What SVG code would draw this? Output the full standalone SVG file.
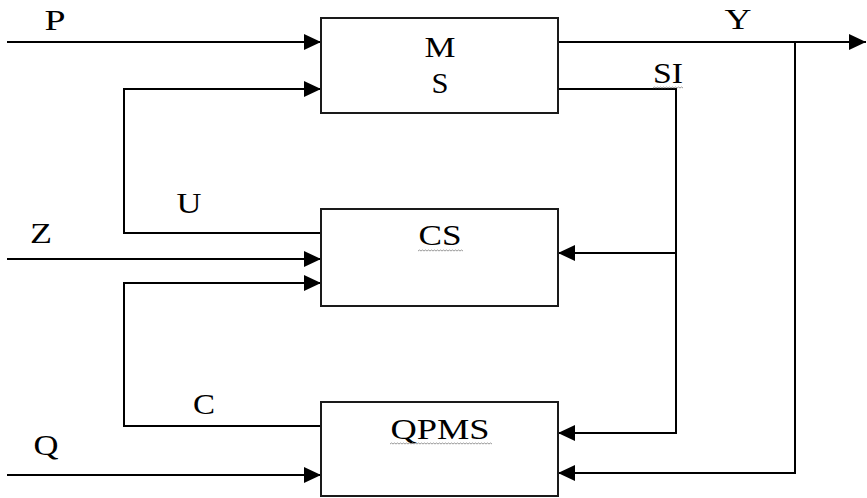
<svg xmlns="http://www.w3.org/2000/svg" width="867" height="498" viewBox="0 0 867 498">
  <style>
    .box { fill: #ffffff; stroke: #1a1a1a; stroke-width: 2; }
    .wire { fill: none; stroke: #000000; stroke-width: 2; }
    .lbl { font-family: "Liberation Serif", "Times New Roman", serif; font-size: 30px; fill: #000000; text-anchor: middle; }
    .squiggle { fill: none; stroke: #9a9a9a; stroke-width: 1; }
  </style>
  <defs>
    <marker id="arrow" markerUnits="userSpaceOnUse" markerWidth="17" markerHeight="16" refX="17" refY="8" orient="auto">
      <path d="M0,0 L17,8 L0,16 Z" fill="#000000"/>
    </marker>
  </defs>

  <rect width="867" height="498" fill="#ffffff"/>

  <!-- connectors -->
  <g id="connectors">
    <!-- external inputs -->
    <path class="wire" d="M7,42 H321" marker-end="url(#arrow)"/>
    <path class="wire" d="M7,259 H321" marker-end="url(#arrow)"/>
    <path class="wire" d="M7,475 H321" marker-end="url(#arrow)"/>
    <!-- U: CS -> MS -->
    <path class="wire" d="M321,233 H124 V89 H321" marker-end="url(#arrow)"/>
    <!-- C: QPMS -> CS -->
    <path class="wire" d="M321,426 H124 V283 H321" marker-end="url(#arrow)"/>
    <!-- Y output and its feedback to QPMS -->
    <path class="wire" d="M558,42 H866" marker-end="url(#arrow)"/>
    <path class="wire" d="M795,42 V473 H558" marker-end="url(#arrow)"/>
    <!-- SI: MS -> CS and QPMS -->
    <path class="wire" d="M558,89 H676 V433 H558" marker-end="url(#arrow)"/>
    <path class="wire" d="M676,253 H558" marker-end="url(#arrow)"/>
  </g>

  <!-- blocks -->
  <g id="node-ms">
    <rect class="box" x="321" y="18" width="237" height="95"/>
    <text class="lbl" x="440" y="57" textLength="31" lengthAdjust="spacingAndGlyphs">M</text>
    <text class="lbl" x="440" y="93" textLength="17" lengthAdjust="spacingAndGlyphs">S</text>
  </g>
  <g id="node-cs">
    <rect class="box" x="321" y="209" width="237" height="97"/>
    <text class="lbl" x="440" y="245" textLength="43" lengthAdjust="spacingAndGlyphs">CS</text>
    <path class="squiggle" d="M418,251 l1.5,-1 l1.5,1 l1.5,-1 l1.5,1 l1.5,-1 l1.5,1 l1.5,-1 l1.5,1 l1.5,-1 l1.5,1 l1.5,-1 l1.5,1 l1.5,-1 l1.5,1 l1.5,-1 l1.5,1 l1.5,-1 l1.5,1 l1.5,-1 l1.5,1 l1.5,-1 l1.5,1 l1.5,-1 l1.5,1 l1.5,-1 l1.5,1 l1.5,-1 l1.5,1 l1.5,-1 l1.5,1"/>
  </g>
  <g id="node-qpms">
    <rect class="box" x="321" y="402" width="237" height="94"/>
    <text class="lbl" x="440" y="439" textLength="99" lengthAdjust="spacingAndGlyphs">QPMS</text>
    <path class="squiggle" d="M390,444 l1.5,-1 l1.5,1 l1.5,-1 l1.5,1 l1.5,-1 l1.5,1 l1.5,-1 l1.5,1 l1.5,-1 l1.5,1 l1.5,-1 l1.5,1 l1.5,-1 l1.5,1 l1.5,-1 l1.5,1 l1.5,-1 l1.5,1 l1.5,-1 l1.5,1 l1.5,-1 l1.5,1 l1.5,-1 l1.5,1 l1.5,-1 l1.5,1 l1.5,-1 l1.5,1 l1.5,-1 l1.5,1 l1.5,-1 l1.5,1 l1.5,-1 l1.5,1 l1.5,-1 l1.5,1 l1.5,-1 l1.5,1 l1.5,-1 l1.5,1 l1.5,-1 l1.5,1 l1.5,-1 l1.5,1 l1.5,-1 l1.5,1 l1.5,-1 l1.5,1 l1.5,-1 l1.5,1 l1.5,-1 l1.5,1 l1.5,-1 l1.5,1 l1.5,-1 l1.5,1 l1.5,-1 l1.5,1 l1.5,-1 l1.5,1 l1.5,-1 l1.5,1 l1.5,-1 l1.5,1 l1.5,-1 l1.5,1 l1.5,-1 l1.5,1"/>
  </g>

  <!-- signal labels -->
  <g id="labels">
    <text class="lbl" x="55" y="30" textLength="21" lengthAdjust="spacingAndGlyphs">P</text>
    <text class="lbl" x="738" y="29" textLength="27" lengthAdjust="spacingAndGlyphs">Y</text>
    <text class="lbl" x="668" y="83" textLength="30" lengthAdjust="spacingAndGlyphs">SI</text>
    <path class="squiggle" d="M653,88 l1.5,-1 l1.5,1 l1.5,-1 l1.5,1 l1.5,-1 l1.5,1 l1.5,-1 l1.5,1 l1.5,-1 l1.5,1 l1.5,-1 l1.5,1 l1.5,-1 l1.5,1 l1.5,-1 l1.5,1 l1.5,-1 l1.5,1 l1.5,-1 l1.5,1"/>
    <text class="lbl" x="189" y="213" textLength="25" lengthAdjust="spacingAndGlyphs">U</text>
    <text class="lbl" x="41" y="243" textLength="22" lengthAdjust="spacingAndGlyphs">Z</text>
    <text class="lbl" x="204" y="414" textLength="22" lengthAdjust="spacingAndGlyphs">C</text>
    <text class="lbl" x="46" y="455" textLength="25" lengthAdjust="spacingAndGlyphs">Q</text>
  </g>
</svg>
